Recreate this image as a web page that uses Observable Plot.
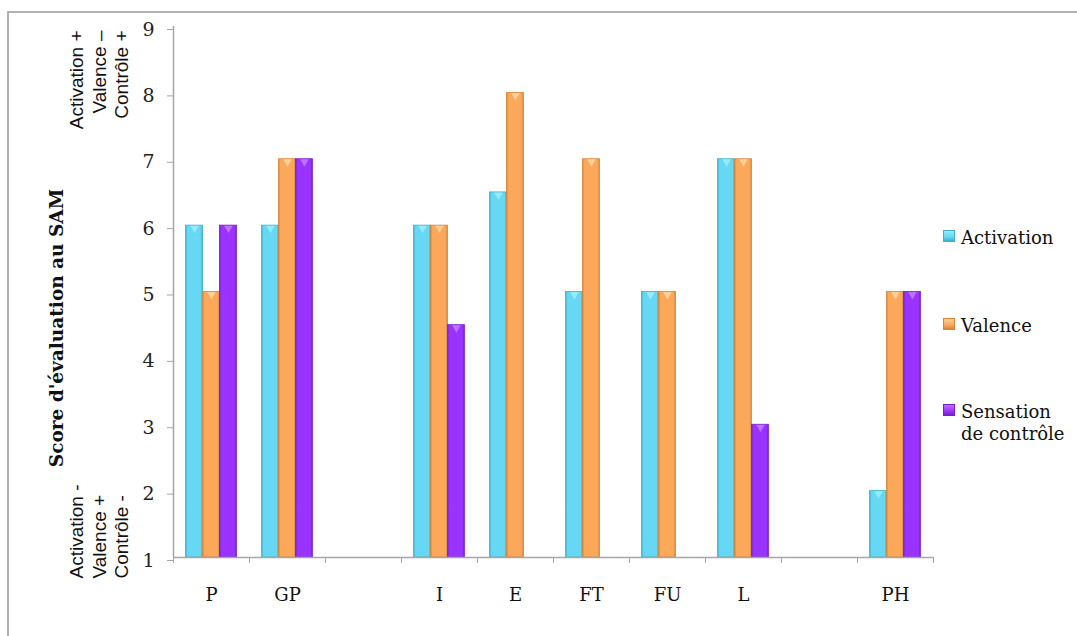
<!DOCTYPE html>
<html><head><meta charset="utf-8">
<script src="https://cdn.jsdelivr.net/npm/d3@7"></script>
<script src="https://cdn.jsdelivr.net/npm/@observablehq/plot@0.6"></script>
<style>
html,body{margin:0;padding:0;background:#fff;overflow:hidden;width:1077px;height:636px;}
#frame{position:absolute;left:7px;top:11px;width:3000px;height:3000px;border-left:2px solid #b3b3b3;border-top:2px solid #b3b3b3;}
#chart{position:absolute;left:0;top:0;}
.lg{position:absolute;font-family:"DejaVu Serif";font-size:18px;color:#111;line-height:22px;white-space:nowrap}
.sw{position:absolute;width:12px;height:12px;box-sizing:border-box}
</style></head><body>
<div id="frame"></div>
<div id="chart"></div>
<div id="legend"></div>
<script>
// ---- data ----
const categories = ["P", "GP", "", "I", "E", "FT", "FU", "L", "", "PH"];
const seriesNames = ["Activation", "Valence", "Sensation de contrôle"];
const activation = [6, 6, null, 6, 6.5, 5, 5, 7, null, 2];
const valence    = [5, 7, null, 6, 8, 7, 5, 7, null, 5];
const sensation  = [6, 7, null, 4.5, null, null, null, 3, null, 5];
const yTicks = [1, 2, 3, 4, 5, 6, 7, 8, 9];
const topLabel = "Activation +\nValence –\nContrôle +";
const bottomLabel = "Activation -\nValence +\nContrôle -";
const yTitle = "Score d'évaluation au SAM";

// ---- styles ----
const fills = ["#66d8f3", "#fba85a", "#9a33ff"];
const lights = ["#95ebfc", "#ffcf95", "#c070ff"];
const darks = ["#3fb0cb", "#d4863c", "#7421cc"];

// ---- table ----
const values = [activation, valence, sensation];
const groupOffset = 0.165, barW = 0.223;
const rows = [];
values.forEach((arr, s) => arr.forEach((v, i) => {
  if (v != null) rows.push({cat: categories[i], i, s, series: seriesNames[s], value: v,
    x1: i + groupOffset + s * barW, x2: i + groupOffset + (s + 1) * barW,
    xc: i + groupOffset + (s + 0.5) * barW});
}));

function defsMark() {
  const ns = "http://www.w3.org/2000/svg";
  const g = document.createElementNS(ns, "defs");
  fills.forEach((c, s) => {
    const lg = document.createElementNS(ns, "linearGradient");
    lg.setAttribute("id", "g" + s);
    lg.setAttribute("x1", "0"); lg.setAttribute("x2", "1");
    lg.setAttribute("y1", "0"); lg.setAttribute("y2", "0");
    [[0, darks[s]], [0.12, c], [0.45, c], [0.88, c], [1, darks[s]]].forEach(([o, col]) => {
      const st = document.createElementNS(ns, "stop");
      st.setAttribute("offset", o); st.setAttribute("stop-color", col);
      lg.appendChild(st);
    });
    g.appendChild(lg);
  });
  return g;
}

const serif = "DejaVu Serif";
const marks = [defsMark];
seriesNames.forEach((name, s) => {
  const sub = rows.filter(d => d.s === s);
  marks.push(Plot.rect(sub, {
    x1: "x1", x2: "x2", y1: 1, y2: "value",
    fill: `url(#g${s})`, stroke: darks[s], strokeWidth: 0.8
  }));
  marks.push(Plot.dot(sub, {
    x: "xc", y: "value", symbol: "triangle", rotate: 180, r: 3.2, dy: 2.5,
    fill: lights[s], stroke: "none"
  }));
});
marks.push(
  Plot.ruleY([1], {stroke: "#a6a6a6", strokeWidth: 1.5}),
  Plot.ruleX([0], {stroke: "#a6a6a6", strokeWidth: 1.5}),
  Plot.axisY({ticks: yTicks, tickSize: 6, tickPadding: 13, stroke: "#a6a6a6", fill: "#222",
    fontSize: 19, fontFamily: serif, label: null, tickFormat: d => String(d), dy: 3}),
  Plot.axisX({ticks: d3.range(0, 11), tickSize: 6, stroke: "#a6a6a6", tickFormat: () => "", label: null}),
  Plot.axisX({ticks: d3.range(0, 10).map(i => i + 0.5), tickSize: 0, tickPadding: 31, fill: "#111",
    fontSize: 18, fontFamily: serif, label: null, tickFormat: d => categories[Math.floor(d)]}),
  Plot.text([topLabel], {frameAnchor: "top-left", text: d => d, rotate: -90, textAnchor: "end",
    lineAnchor: "middle", lineHeight: 1.18, dx: -75, dy: 4, fontSize: 19,
    fontFamily: "Liberation Sans", fill: "#111"}),
  Plot.text([bottomLabel], {frameAnchor: "bottom-left", text: d => d, rotate: -90, textAnchor: "start",
    lineAnchor: "middle", lineHeight: 1.18, dx: -75, dy: 21, fontSize: 19,
    fontFamily: "Liberation Sans", fill: "#111"}),
  Plot.text([yTitle], {frameAnchor: "left", text: d => d, rotate: -90, textAnchor: "middle",
    lineAnchor: "middle", dx: -116, dy: 36, fontSize: 18.5, fontWeight: "bold",
    fontFamily: serif, fill: "#111"})
);

const chart = Plot.plot({
  width: 1077, height: 636,
  marginLeft: 173, marginRight: 144, marginTop: 26, marginBottom: 79,
  x: {domain: [0, 10], axis: null},
  y: {domain: [1, 9], axis: null},
  style: {background: "transparent", overflow: "visible"},
  marks
});
document.getElementById("chart").appendChild(chart);

// ---- legend ----
const legendTops = [227, 315, 401];
const legend = document.getElementById("legend");
seriesNames.forEach((name, s) => {
  const sw = document.createElement("div");
  sw.className = "sw";
  sw.style.left = "943px";
  sw.style.top = (legendTops[s] + 3) + "px";
  sw.style.background = `linear-gradient(180deg, ${lights[s]} 0%, ${fills[s]} 60%, ${darks[s]} 100%)`;
  sw.style.border = `1px solid ${darks[s]}`;
  legend.appendChild(sw);
  const t = document.createElement("div");
  t.className = "lg";
  t.style.left = "961px";
  t.style.top = legendTops[s] + "px";
  t.innerHTML = s === 2 ? "Sensation<br>de contrôle" : name;
  legend.appendChild(t);
});
</script>
</body></html>
